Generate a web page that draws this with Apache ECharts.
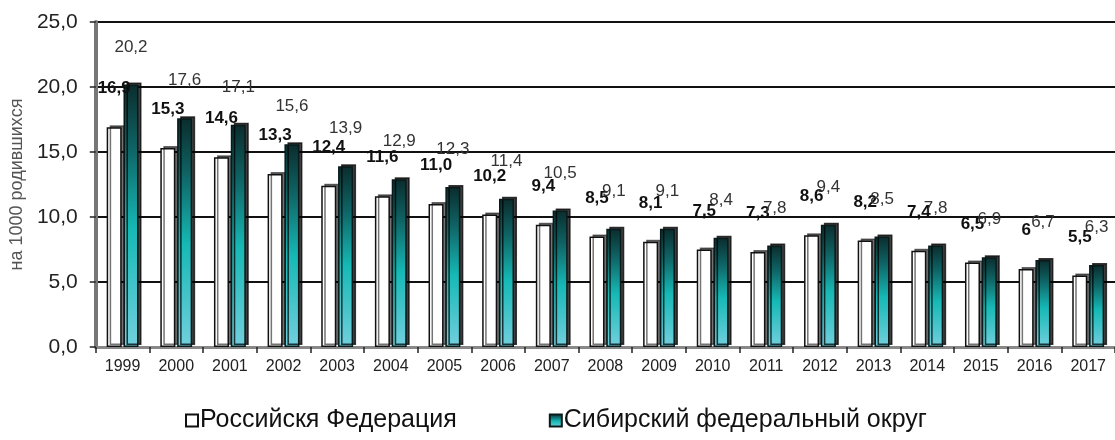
<!DOCTYPE html>
<html>
<head>
<meta charset="utf-8">
<script src="https://cdn.jsdelivr.net/npm/echarts@6/dist/echarts.min.js"></script>
<style>
html, body { margin: 0; padding: 0; background: #fff; }
#chart { width: 1115px; height: 440px; }
</style>
</head>
<body>
<div id="chart"></div>
<script>
// годы
var years = ['1999', '2000', '2001', '2002', '2003', '2004', '2005', '2006', '2007', '2008',
    '2009', '2010', '2011', '2012', '2013', '2014', '2015', '2016', '2017'];
// Российская Федерация
var rfValues = [16.9, 15.3, 14.6, 13.3, 12.4, 11.6, 11.0, 10.2, 9.4, 8.5, 8.1, 7.5, 7.3, 8.6, 8.2, 7.4, 6.5, 6.0, 5.5];
var rfLabels = ['16,9', '15,3', '14,6', '13,3', '12,4', '11,6', '11,0', '10,2', '9,4', '8,5',
    '8,1', '7,5', '7,3', '8,6', '8,2', '7,4', '6,5', '6', '5,5'];
// Сибирский федеральный округ
var sfoValues = [20.2, 17.6, 17.1, 15.6, 13.9, 12.9, 12.3, 11.4, 10.5, 9.1, 9.1, 8.4, 7.8, 9.4, 8.5, 7.8, 6.9, 6.7, 6.3];
var yTicks = [0, 5, 10, 15, 20, 25];

var font = '"Liberation Sans", Arial, sans-serif';

var myChart = echarts.init(document.getElementById('chart'));

var option = {
    animation: false,
    grid: {
        left: 95,
        right: 0,
        top: 22,
        bottom: 93,
        containLabel: false
    },
    legend: {
        top: 403,
        left: 180,
        itemWidth: 12,
        itemHeight: 12,
        itemGap: 92,
        icon: 'rect',
        textStyle: {
            fontFamily: font,
            fontSize: 25,
            color: '#111',
            padding: [0, 0, 0, -3]
        },
        data: ['Российскя Федерация', 'Сибирский федеральный округ']
    },
    xAxis: {
        type: 'category',
        data: years,
        axisLine: { lineStyle: { color: '#888', width: 3 } },
        axisTick: { show: true, length: 6, lineStyle: { color: '#222', width: 1.5 } },
        axisLabel: {
            margin: 12,
            fontFamily: font,
            fontSize: 16,
            color: '#222'
        }
    },
    yAxis: {
        type: 'value',
        min: yTicks[0],
        max: yTicks[yTicks.length - 1],
        interval: 5,
        name: 'на 1000 родившихся',
        nameLocation: 'middle',
        nameGap: 68,
        nameTextStyle: {
            fontFamily: font,
            fontSize: 18,
            color: '#555'
        },
        axisLine: { show: true, lineStyle: { color: '#777', width: 4 } },
        axisTick: { show: true, inside: false, length: 6, lineStyle: { color: '#222', width: 1.5 } },
        axisLabel: {
            margin: 18,
            fontFamily: font,
            fontSize: 21,
            color: '#222',
            formatter: function (v) { return v.toFixed(1).replace('.', ','); }
        },
        splitLine: { show: true, lineStyle: { color: '#111', width: 2 } }
    },
    series: [{
        name: 'Российскя Федерация',
        type: 'bar',
        barWidth: '28%',
        barGap: '12%',
        data: rfValues,
        itemStyle: {
            color: '#fff',
            borderColor: '#111',
            borderWidth: 1.5,
            shadowColor: 'rgba(0,0,0,0.55)',
            shadowOffsetX: 3,
            shadowOffsetY: -2,
            shadowBlur: 0
        },
        label: {
            show: true,
            position: 'top',
            distance: 30,
            fontFamily: font,
            fontSize: 17,
            fontWeight: 'bold',
            color: '#111',
            formatter: function (p) { return rfLabels[p.dataIndex]; }
        }
    }, {
        name: 'Сибирский федеральный округ',
        type: 'bar',
        barWidth: '28%',
        data: sfoValues,
        itemStyle: {
            color: new echarts.graphic.LinearGradient(0, 0, 0, 1, [
                { offset: 0, color: '#0b2c2d' },
                { offset: 0.25, color: '#0f6566' },
                { offset: 0.55, color: '#16b8b5' },
                { offset: 1, color: '#72d0de' }
            ]),
            borderColor: '#0a1a1a',
            borderWidth: 1.5,
            shadowColor: 'rgba(0,0,0,0.75)',
            shadowOffsetX: 3,
            shadowOffsetY: -2,
            shadowBlur: 0
        },
        label: {
            show: true,
            position: 'top',
            distance: 29,
            fontFamily: font,
            fontSize: 17,
            color: '#333',
            formatter: function (p) { return p.value.toFixed(1).replace('.', ','); }
        }
    }]
};

myChart.setOption(option);
</script>
</body>
</html>
